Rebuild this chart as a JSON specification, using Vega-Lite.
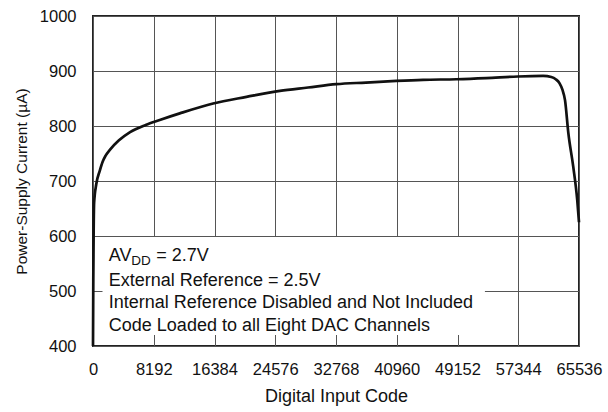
{
  "$schema": "https://vega.github.io/schema/vega-lite/v6.json",
  "width": 486,
  "height": 330,
  "autosize": {"type": "none"},
  "padding": {"left": 93, "top": 16, "right": 29, "bottom": 66},
  "background": "white",
  "config": {
    "font": "Liberation Sans",
    "view": {"stroke": "#222", "strokeWidth": 2},
    "axis": {
      "grid": true,
      "gridColor": "#555",
      "gridWidth": 1,
      "ticks": false,
      "domain": false,
      "labelColor": "#111",
      "titleColor": "#111",
      "titleFontWeight": "normal",
      "labelFont": "Liberation Sans",
      "titleFont": "Liberation Sans"
    }
  },
  "datasets": {
    "curve": [
      {"code": 0, "current": 400},
      {"code": 40, "current": 520},
      {"code": 90, "current": 610},
      {"code": 150, "current": 660},
      {"code": 450, "current": 695},
      {"code": 900, "current": 718},
      {"code": 1300, "current": 735},
      {"code": 1700, "current": 746},
      {"code": 2300, "current": 757},
      {"code": 3500, "current": 774},
      {"code": 5000, "current": 789},
      {"code": 7100, "current": 802},
      {"code": 9000, "current": 811},
      {"code": 11700, "current": 823},
      {"code": 16200, "current": 841},
      {"code": 20700, "current": 853},
      {"code": 25200, "current": 864},
      {"code": 29000, "current": 870},
      {"code": 32800, "current": 876},
      {"code": 36800, "current": 879},
      {"code": 40900, "current": 882},
      {"code": 44500, "current": 884},
      {"code": 49000, "current": 885},
      {"code": 53000, "current": 887},
      {"code": 57300, "current": 890},
      {"code": 60700, "current": 891},
      {"code": 61800, "current": 889},
      {"code": 62400, "current": 885},
      {"code": 62900, "current": 878},
      {"code": 63300, "current": 866},
      {"code": 63650, "current": 847},
      {"code": 64100, "current": 787},
      {"code": 64760, "current": 726},
      {"code": 65300, "current": 665},
      {"code": 65535, "current": 625}
    ]
  },
  "layer": [
    {
      "data": {"name": "curve"},
      "mark": {"type": "line", "color": "#111", "strokeWidth": 2.7, "interpolate": "monotone"},
      "encoding": {
        "x": {
          "field": "code",
          "type": "quantitative",
          "scale": {"domain": [0, 65536], "nice": false, "zero": false},
          "axis": {
            "values": [0, 8192, 16384, 24576, 32768, 40960, 49152, 57344, 65536],
            "format": "d",
            "labelFontSize": 16.5,
            "labelPadding": 15,
            "labelFlush": false,
            "title": "Digital Input Code",
            "titleFontSize": 18,
            "titlePadding": 10
          }
        },
        "y": {
          "field": "current",
          "type": "quantitative",
          "scale": {"domain": [400, 1000], "nice": false, "zero": false},
          "axis": {
            "values": [400, 500, 600, 700, 800, 900, 1000],
            "format": "d",
            "labelFontSize": 16.5,
            "labelPadding": 17,
            "labelFlush": false,
            "title": "Power-Supply Current (µA)",
            "titleFontSize": 15.5,
            "titlePadding": 10
          }
        }
      }
    },
    {
      "data": {"values": [{"box": "annotation"}]},
      "mark": {"type": "rect", "fill": "white", "stroke": null},
      "encoding": {
        "x": {"datum": 1282, "type": "quantitative"},
        "x2": {"datum": 52850},
        "y": {"datum": 420, "type": "quantitative"},
        "y2": {"datum": 598}
      }
    },
    {
      "data": {"values": [{"label": "AV"}]},
      "mark": {"type": "text", "align": "left", "baseline": "alphabetic", "fontSize": 18, "color": "#111"},
      "encoding": {
        "x": {"datum": 2133, "type": "quantitative"},
        "y": {"datum": 555, "type": "quantitative"},
        "text": {"field": "label"}
      }
    },
    {
      "data": {"values": [{"label": "DD"}]},
      "mark": {"type": "text", "align": "left", "baseline": "alphabetic", "fontSize": 13.5, "dx": 22.5, "dy": 4, "color": "#111"},
      "encoding": {
        "x": {"datum": 2133, "type": "quantitative"},
        "y": {"datum": 555, "type": "quantitative"},
        "text": {"field": "label"}
      }
    },
    {
      "data": {"values": [{"label": "= 2.7V"}]},
      "mark": {"type": "text", "align": "left", "baseline": "alphabetic", "fontSize": 18, "dx": 47.5, "color": "#111"},
      "encoding": {
        "x": {"datum": 2133, "type": "quantitative"},
        "y": {"datum": 555, "type": "quantitative"},
        "text": {"field": "label"}
      }
    },
    {
      "data": {"values": [{"label": ["External Reference = 2.5V", "Internal Reference Disabled and Not Included", "Code Loaded to all Eight DAC Channels"]}]},
      "mark": {"type": "text", "align": "left", "baseline": "alphabetic", "fontSize": 18, "lineHeight": 22.7, "color": "#111"},
      "encoding": {
        "x": {"datum": 2133, "type": "quantitative"},
        "y": {"datum": 509.6, "type": "quantitative"},
        "text": {"field": "label"}
      }
    }
  ]
}
